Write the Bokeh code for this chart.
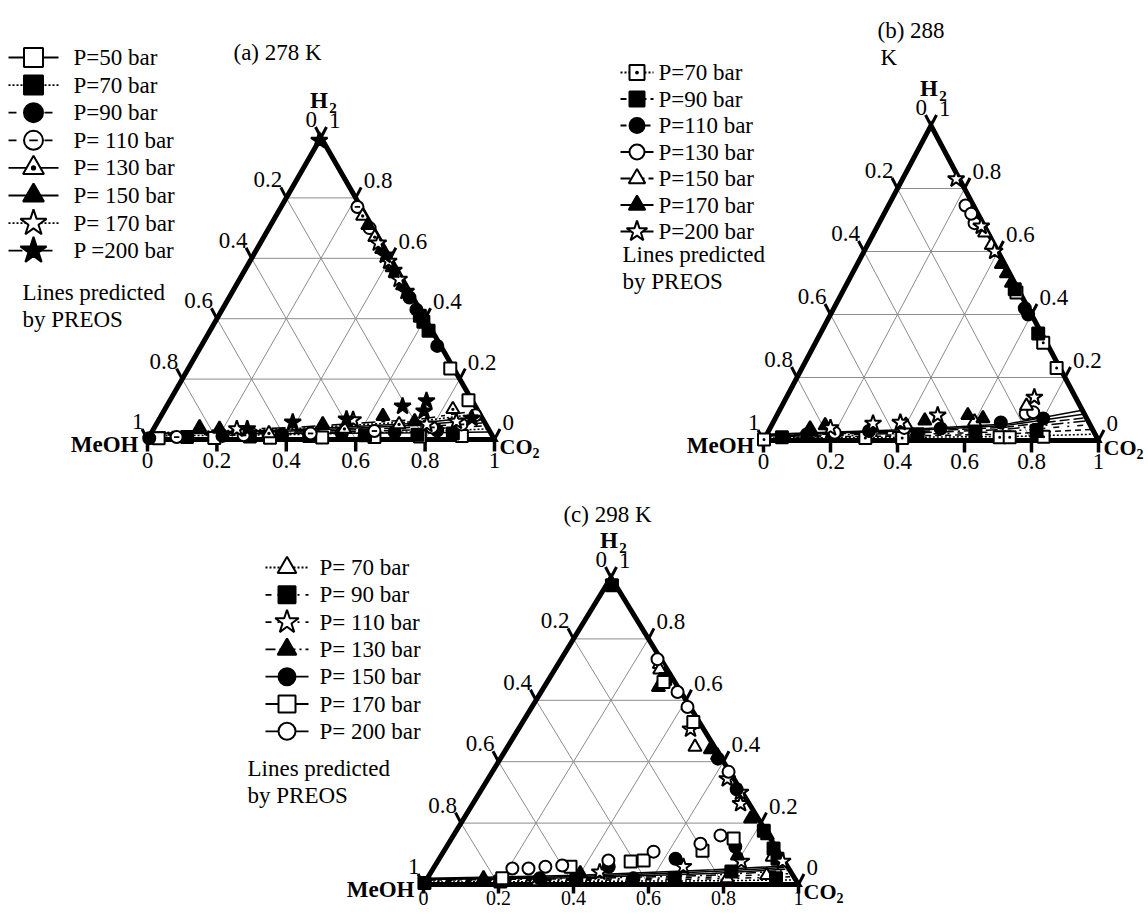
import numpy as np
from bokeh.plotting import figure
from bokeh.models import Range1d
from bokeh.core.properties import value
from bokeh.embed import file_html
from bokeh.resources import INLINE

# ---------------- DATA : (x_CO2, x_H2) ; x_MeOH = 1 - x_CO2 - x_H2 ----------------
tick_vals = [0.0, 0.2, 0.4, 0.6, 0.8, 1.0]
tick_labels = ["0", "0.2", "0.4", "0.6", "0.8", "1"]

# (a) 278 K  -- experimental points
a50 = [(0.03, 0.004), (0.19, 0.005), (0.35, 0.006), (0.50, 0.007), (0.65, 0.008), (0.78, 0.010), (0.90, 0.012), (0.755, 0.235), (0.86, 0.13)]
a70 = [(0.11, 0.008), (0.29, 0.010), (0.46, 0.012), (0.62, 0.014), (0.77, 0.016), (0.87, 0.020), (0.58, 0.41), (0.60, 0.39), (0.63, 0.36)]
a90 = [(0.003, 0.004), (0.21, 0.012), (0.38, 0.016), (0.55, 0.020), (0.70, 0.025), (0.82, 0.030), (0.68, 0.31), (0.56, 0.43), (0.52, 0.47)]
a110 = [(0.08, 0.008), (0.27, 0.014), (0.46, 0.020), (0.64, 0.028), (0.80, 0.040), (0.88, 0.050), (0.22, 0.77), (0.29, 0.70), (0.905, 0.08)]
a130 = [(0.34, 0.020), (0.55, 0.035), (0.70, 0.050), (0.83, 0.100), (0.25, 0.74), (0.32, 0.67), (0.42, 0.57)]
a150 = [(0.13, 0.040), (0.19, 0.035), (0.48, 0.050), (0.64, 0.077), (0.74, 0.060), (0.28, 0.71), (0.36, 0.63), (0.44, 0.55), (0.48, 0.51)]
a170 = [(0.24, 0.035), (0.56, 0.065), (0.78, 0.050), (0.86, 0.060), (0.34, 0.65), (0.40, 0.59), (0.46, 0.53)]
a200 = [(0.27, 0.035), (0.39, 0.057), (0.54, 0.067), (0.68, 0.110), (0.74, 0.128), (0.75, 0.094), (0.90, 0.070), (0.38, 0.61), (0.43, 0.56), (0.50, 0.49), (0.0, 0.99)]
# (a) PREOS lines
a50_eos = [(0.0, 0.020), (0.4, 0.020), (0.8, 0.022), (0.97, 0.025)]
a70_eos = [(0.0, 0.012), (0.4, 0.016), (0.75, 0.025), (0.96, 0.035)]
a90_eos = [(0.0, 0.014), (0.4, 0.020), (0.75, 0.032), (0.95, 0.045)]
a110_eos = [(0.0, 0.016), (0.4, 0.024), (0.75, 0.040), (0.94, 0.055)]
a130_eos = [(0.0, 0.018), (0.4, 0.028), (0.75, 0.047), (0.93, 0.065)]
a150_eos = [(0.0, 0.020), (0.4, 0.032), (0.75, 0.054), (0.92, 0.075)]
a170_eos = [(0.0, 0.022), (0.4, 0.036), (0.75, 0.060), (0.91, 0.085)]
a200_eos = [(0.0, 0.024), (0.4, 0.040), (0.75, 0.067), (0.90, 0.095)]
a_labels = ["P=50 bar", "P=70 bar", "P=90 bar", "P= 110 bar", "P= 130 bar", "P= 150 bar", "P= 170 bar", "P =200 bar"]

# (b) 288 K
b70 = [(0.0, 0.003), (0.30, 0.008), (0.41, 0.008), (0.70, 0.010), (0.73, 0.010), (0.83, 0.012), (0.52, 0.47), (0.68, 0.31), (0.76, 0.23)]
b90 = [(0.05, 0.010), (0.20, 0.015), (0.45, 0.020), (0.62, 0.025), (0.80, 0.030), (0.51, 0.48), (0.65, 0.34)]
b110 = [(0.12, 0.020), (0.30, 0.030), (0.51, 0.038), (0.68, 0.057), (0.80, 0.070), (0.57, 0.42), (0.59, 0.40)]
b130 = [(0.20, 0.025), (0.40, 0.040), (0.74, 0.085), (0.76, 0.090), (0.23, 0.746), (0.285, 0.69), (0.26, 0.72)]
b150 = [(0.40, 0.050), (0.60, 0.060), (0.73, 0.110), (0.33, 0.66), (0.37, 0.62)]
b170 = [(0.12, 0.038), (0.16, 0.048), (0.30, 0.040), (0.45, 0.063), (0.57, 0.080), (0.62, 0.070), (0.43, 0.56), (0.46, 0.53), (0.49, 0.50)]
b200 = [(0.18, 0.040), (0.30, 0.054), (0.38, 0.057), (0.48, 0.080), (0.74, 0.137), (0.16, 0.83), (0.31, 0.68), (0.39, 0.60)]
b70_eos = [(0.0, 0.008), (0.4, 0.010), (0.75, 0.013), (0.975, 0.020)]
b90_eos = [(0.0, 0.010), (0.4, 0.014), (0.70, 0.020), (0.96, 0.035)]
b110_eos = [(0.0, 0.012), (0.4, 0.018), (0.70, 0.028), (0.945, 0.050)]
b130_eos = [(0.0, 0.014), (0.4, 0.022), (0.70, 0.035), (0.933, 0.062)]
b150_eos = [(0.0, 0.016), (0.4, 0.026), (0.70, 0.042), (0.923, 0.072)]
b170_eos = [(0.0, 0.018), (0.4, 0.030), (0.70, 0.048), (0.912, 0.083)]
b200_eos = [(0.0, 0.020), (0.4, 0.034), (0.70, 0.052), (0.900, 0.095)]
b_labels = ["P=70 bar", "P=90 bar", "P=110 bar", "P=130 bar", "P=150 bar", "P=170 bar", "P=200 bar"]

# (c) 298 K
c70 = [(0.30, 0.010), (0.55, 0.015), (0.80, 0.020), (0.90, 0.030), (0.27, 0.718), (0.28, 0.70), (0.50, 0.448), (0.885, 0.09)]
c90 = [(0.0, 0.005), (0.20, 0.010), (0.40, 0.015), (0.66, 0.020), (0.80, 0.042), (0.93, 0.020), (0.31, 0.669), (0.82, 0.175), (0.875, 0.117), (0.902, 0.084), (0.015, 0.975)]
c110 = [(0.45, 0.040), (0.664, 0.058), (0.81, 0.075), (0.459, 0.506), (0.638, 0.344), (0.695, 0.30), (0.714, 0.263), (0.92, 0.075)]
c130 = [(0.15, 0.020), (0.40, 0.036), (0.79, 0.094), (0.305, 0.643), (0.545, 0.44), (0.574, 0.42), (0.765, 0.214), (0.837, 0.16), (0.01, 0.98)]
c150 = [(0.30, 0.020), (0.465, 0.058), (0.63, 0.084), (0.77, 0.123), (0.55, 0.020), (0.58, 0.41), (0.68, 0.31)]
c170 = [(0.20, 0.020), (0.363, 0.058), (0.515, 0.075), (0.548, 0.078), (0.689, 0.11), (0.752, 0.15), (0.455, 0.529), (0.31, 0.66)]
c200 = [(0.211, 0.052), (0.254, 0.052), (0.296, 0.058), (0.339, 0.062), (0.454, 0.078), (0.56, 0.107), (0.672, 0.133), (0.712, 0.16), (0.257, 0.734), (0.364, 0.627), (0.415, 0.578), (0.63, 0.367)]
c70_eos = [(0.0, 0.008), (0.4, 0.010), (0.75, 0.012), (0.975, 0.015)]
c90_eos = [(0.0, 0.010), (0.4, 0.013), (0.75, 0.018), (0.965, 0.025)]
c110_eos = [(0.0, 0.012), (0.4, 0.016), (0.75, 0.024), (0.955, 0.035)]
c130_eos = [(0.0, 0.014), (0.4, 0.019), (0.75, 0.030), (0.945, 0.045)]
c150_eos = [(0.0, 0.016), (0.4, 0.022), (0.75, 0.036), (0.940, 0.050)]
c170_eos = [(0.0, 0.018), (0.4, 0.026), (0.75, 0.042), (0.935, 0.055)]
c200_eos = [(0.0, 0.020), (0.4, 0.030), (0.75, 0.048), (0.930, 0.060)]
c_labels = ["P= 70 bar", "P= 90 bar", "P= 110 bar", "P= 130 bar", "P= 150 bar", "P= 170 bar", "P= 200 bar"]

# ---------------- layout / style ----------------
FONT = value("Liberation Serif")
W, H = 1144, 910
p = figure(width=W, height=H, x_range=Range1d(0, W), y_range=Range1d(H, 0),
           output_backend="svg", toolbar_location=None, min_border=0)
p.axis.visible = False
p.grid.visible = False
p.outline_line_color = None
p.background_fill_color = "white"

# panel geometry: MeOH corner x, base y, side width, height
GEOM = {"a": (147, 439, 347, 302), "b": (763, 440, 335, 315), "c": (423, 884, 375, 307)}
# bottom tick length, label offset, label size
BLAB = {"a": (12, 21, "23px"), "b": (12, 21, "23px"), "c": (9, 13, "20px")}
S3 = np.sqrt(3) / 2


def tern(g, c, h):
    x0, y0, w, ht = GEOM[g]
    c = np.asarray(c, float); h = np.asarray(h, float)
    return x0 + w * (c + h / 2), y0 - ht * h


def txt(x, y, s, size="23px", align="center", bold=False, baseline="middle"):
    p.text(x=[x], y=[y], text=[s], text_font=FONT, text_font_size=size, text_align=align,
           text_baseline=baseline, text_color="black", text_font_style="bold" if bold else "normal")


def marker(xs, ys, kind, size):
    base = dict(line_color="black", line_width=2)
    if kind == "sq_o":
        p.scatter(xs, ys, marker="square", size=size, fill_color="white", **base)
    elif kind == "sq_d":
        p.scatter(xs, ys, marker="square_dot", size=size, fill_color="white", **base)
    elif kind == "sq_f":
        p.scatter(xs, ys, marker="square", size=size, fill_color="black", **base)
    elif kind == "ci_f":
        p.scatter(xs, ys, marker="circle", size=size, fill_color="black", **base)
    elif kind == "ci_o":
        p.scatter(xs, ys, marker="circle", size=size, fill_color="white", **base)
    elif kind == "ci_m":
        p.scatter(xs, ys, marker="circle", size=size, fill_color="white", **base)
        p.scatter(xs, ys, marker="dash", size=size * 0.45, line_color="black", line_width=1.8)
    elif kind == "tri_o":
        p.scatter(xs, ys, marker="triangle", size=size * 1.1, fill_color="white", **base)
    elif kind == "tri_d":
        p.scatter(xs, ys, marker="triangle_dot", size=size * 1.1, fill_color="white", **base)
    elif kind == "tri_f":
        p.scatter(xs, ys, marker="triangle", size=size * 1.1, fill_color="black", **base)
    elif kind == "st_o":
        p.scatter(xs, ys, marker="star", size=size * 1.45, fill_color="white", **base)
    elif kind == "st_f":
        p.scatter(xs, ys, marker="star", size=size * 1.45, fill_color="black", **base)


def draw_frame(g):
    for v in [0.2, 0.4, 0.6, 0.8]:
        for (c1, h1, c2, h2) in [(0, v, 1 - v, v), (v, 0, v, 1 - v), (1 - v, 0, 0, 1 - v)]:
            xs, ys = tern(g, [c1, c2], [h1, h2])
            p.line(xs, ys, line_color="#8c8c8c", line_width=1)


def draw_edges(g):
    xs, ys = tern(g, [0, 1, 0, 0], [0, 0, 1, 0])
    p.line(xs, ys, line_color="black", line_width=5, line_join="miter")
    L = 11
    tl, boff, bsize = BLAB[g]
    for v, lab in zip(tick_vals, tick_labels):
        x, y = tern(g, [v], [0])
        p.line([x[0], x[0]], [y[0], y[0] + tl], line_color="black", line_width=3.5)
        txt(x[0], y[0] + boff, lab, size=bsize)
        x, y = tern(g, [0], [1 - v])
        p.line([x[0], x[0] - 0.5 * L], [y[0], y[0] - S3 * L * 1.1], line_color="black", line_width=3)
        txt(x[0] - 4, y[0] - 18, lab, align="right")
        x, y = tern(g, [1 - v], [v])
        p.line([x[0], x[0] + 0.5 * L], [y[0], y[0] - S3 * L * 1.1], line_color="black", line_width=3)
        txt(x[0] + 8, y[0] - 17, lab, align="left")
    xa, ya = tern(g, [0], [1])
    txt(xa[0] - 2, ya[0] - 37, "H", bold=True)
    txt(xa[0] + 12, ya[0] - 30, "2", size="15px", bold=True)
    xm, ym = tern(g, [0], [0])
    txt(xm[0] - 9, ym[0] + 5, "MeOH", bold=True, align="right")
    xc, yc = tern(g, [1], [0])
    txt(xc[0] + 5, yc[0] + 7, "CO", size="22px", bold=True, align="left")
    txt(xc[0] + 38, yc[0] + 13, "2", size="14px", bold=True, align="left")


def draw_series(g, pts, eos, dash):
    c = [q[0] for q in eos]; h = [q[1] for q in eos]
    xs, ys = tern(g, c, h)
    p.line(xs, ys, line_color="black", line_width=1.5, line_dash=dash)
    c = [q[0] for q in pts]; h = [q[1] for q in pts]
    return tern(g, c, h)


def draw_legend(x0, x1, xt, y0, step, labels, kinds, dashes, msize, lp_x, lp_y):
    for i, (lab, k, d) in enumerate(zip(labels, kinds, dashes)):
        y = y0 + i * step
        p.line([x0, x1], [y, y], line_color="black", line_width=1.8, line_dash=d)
        marker([(x0 + x1) / 2], [y], k, msize)
        txt(xt, y, lab, align="left")
    txt(lp_x, lp_y, "Lines predicted", align="left")
    txt(lp_x, lp_y + 27, "by PREOS", align="left")


PANELS = [
    ("a", [a50, a70, a90, a110, a130, a150, a170, a200],
     [a50_eos, a70_eos, a90_eos, a110_eos, a130_eos, a150_eos, a170_eos, a200_eos],
     ["sq_o", "sq_f", "ci_f", "ci_m", "tri_d", "tri_f", "st_o", "st_f"],
     ["solid", "2 2", "8 10", "8 10", "solid", "solid", "2 2", "14 6 4 6"], a_labels,
     dict(x0=8, x1=58, xt=73, y0=57, step=27.6, msize=19, lp_x=22, lp_y=292)),
    ("b", [b70, b90, b110, b130, b150, b170, b200],
     [b70_eos, b90_eos, b110_eos, b130_eos, b150_eos, b170_eos, b200_eos],
     ["sq_d", "sq_f", "ci_f", "ci_o", "tri_o", "tri_f", "st_o"],
     ["2 2", "6 4", "6 8 2 8", "12 4 2 4", "10 4", "solid", "solid"], b_labels,
     dict(x0=620, x1=653, xt=658, y0=72, step=26.5, msize=15, lp_x=622, lp_y=254)),
    ("c", [c70, c90, c110, c130, c150, c170, c200],
     [c70_eos, c90_eos, c110_eos, c130_eos, c150_eos, c170_eos, c200_eos],
     ["tri_o", "sq_f", "st_o", "tri_f", "ci_f", "sq_o", "ci_o"],
     ["2 2", "6 6 2 6", "6 6 2 6", "10 4 2 4", "solid", "solid", "solid"], c_labels,
     dict(x0=265, x1=308, xt=319, y0=567, step=27.3, msize=17, lp_x=247, lp_y=768)),
]

for g, pts_list, eos_list, kinds, dashes, labels, leg in PANELS:
    draw_frame(g)
    pos = [draw_series(g, pts, eos, d) for pts, eos, d in zip(pts_list, eos_list, dashes)]
    draw_edges(g)
    for (xs, ys), k in zip(pos, kinds):
        marker(xs, ys, k, 12)
    draw_legend(leg["x0"], leg["x1"], leg["xt"], leg["y0"], leg["step"], labels, kinds, dashes,
                leg["msize"], leg["lp_x"], leg["lp_y"])

# titles
txt(233, 52, "(a) 278 K", align="left")
txt(877, 30, "(b) 288", align="left")
txt(880, 57, "K", align="left")
txt(607, 514, "(c) 298 K")

open("out.html", "w").write(file_html(p, INLINE))
